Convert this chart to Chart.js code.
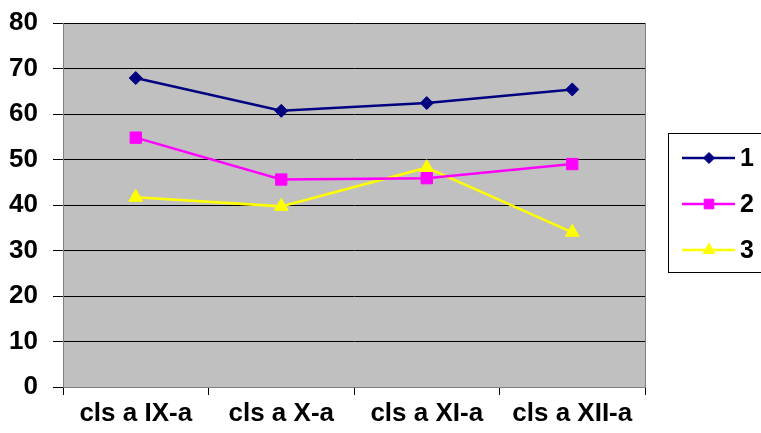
<!DOCTYPE html>
<html>
<head>
<meta charset="utf-8">
<script src="https://cdn.jsdelivr.net/npm/chart.js@4/dist/chart.umd.min.js"></script>
<style>
  html, body { margin: 0; padding: 0; background: #fff; }
  #wrap { width: 761px; height: 433px; }
</style>
</head>
<body>
<div id="wrap"><canvas id="chart" width="761" height="433"></canvas></div>
<script>
(function () {
  "use strict";

  // ---- data ----
  const CATEGORIES = ["cls a IX-a", "cls a X-a", "cls a XI-a", "cls a XII-a"];
  const SERIES_1 = [67.9, 60.7, 62.4, 65.4];
  const SERIES_2 = [54.8, 45.6, 45.9, 49.0];
  const SERIES_3 = [41.7, 39.7, 48.2, 34.0];
  const SERIES_NAMES = ["1", "2", "3"];
  const Y_MIN = 0, Y_MAX = 80, Y_STEP = 10;

  const COLORS = {
    s1: "#000080",
    s2: "#FF00FF",
    s3: "#FFFF00",
    plot: "#C0C0C0",
    frame: "#808080",
    grid: "#000000",
    text: "#000000",
  };
  const FONT = "'Liberation Sans', Arial, sans-serif";

  // Gray plot background + right frame edge.
  const plotBg = {
    id: "plotBg",
    beforeDraw(chart) {
      const a = chart.chartArea, c = chart.ctx;
      c.save();
      c.fillStyle = COLORS.plot;
      c.fillRect(a.left, a.top, a.right - a.left, a.bottom - a.top);
      c.restore();
    },
    afterDatasetsDraw(chart) {
      const a = chart.chartArea, c = chart.ctx;
      c.save();
      c.strokeStyle = COLORS.frame;
      c.lineWidth = 1;
      c.beginPath();
      c.moveTo(a.right + 0.5, a.top);
      c.lineTo(a.right + 0.5, a.bottom);
      c.stroke();
      c.restore();
    },
  };

  // Excel-style boxed legend: line segment with a marker, label on the right.
  const boxLegend = {
    id: "boxLegend",
    afterDraw(chart) {
      const c = chart.ctx;
      c.save();
      c.strokeStyle = "#000";
      c.lineWidth = 1;
      c.strokeRect(668.5, 133.5, 100, 139);
      const rows = [158, 204, 250];
      chart.data.datasets.forEach((ds, i) => {
        const y = rows[i];
        c.strokeStyle = ds.borderColor;
        c.lineWidth = ds.borderWidth;
        c.beginPath();
        c.moveTo(682, y);
        c.lineTo(735, y);
        c.stroke();
        c.fillStyle = ds.borderColor;
        c.lineWidth = 1;
        Chart.helpers.drawPoint(c, { pointStyle: ds.pointStyle, radius: ds.pointRadius * 0.85, borderWidth: 1 }, 709, y);
        c.fillStyle = COLORS.text;
        c.font = "bold 25px " + FONT;
        c.textBaseline = "middle";
        c.textAlign = "left";
        c.fillText(ds.label, 740, y + 1);
      });
      c.restore();
    },
  };

  function series(label, data, color, style, radius) {
    return {
      label: label,
      data: data,
      borderColor: color,
      backgroundColor: color,
      borderWidth: 2.5,
      pointStyle: style,
      pointRadius: radius,
      pointHoverRadius: radius,
      pointBorderWidth: 1,
      tension: 0,
    };
  }

  new Chart(document.getElementById("chart"), {
    type: "line",
    data: {
      labels: CATEGORIES,
      datasets: [
        series(SERIES_NAMES[0], SERIES_1, COLORS.s1, "rectRot", 6.5),
        series(SERIES_NAMES[1], SERIES_2, COLORS.s2, "rect", 8),
        series(SERIES_NAMES[2], SERIES_3, COLORS.s3, "triangle", 8),
      ],
    },
    options: {
      responsive: false,
      animation: false,
      layout: { padding: { top: 23, right: 116, left: 0, bottom: 0 } },
      plugins: { legend: { display: false }, tooltip: { enabled: false } },
      scales: {
        x: {
          offset: true,
          grid: { offset: true, drawOnChartArea: false, drawTicks: true, tickLength: 8, color: COLORS.grid },
          border: { color: COLORS.frame, width: 1 },
          ticks: { color: COLORS.text, padding: 3, maxRotation: 0, font: { family: FONT, size: 26, weight: "bold" } },
          afterFit(scale) { scale.height = 46; scale.paddingLeft = 0; scale.paddingRight = 0; },
        },
        y: {
          min: Y_MIN,
          max: Y_MAX,
          ticks: { stepSize: Y_STEP, color: COLORS.text, padding: 15, font: { family: FONT, size: 26, weight: "bold" } },
          grid: { color: COLORS.grid, tickLength: 10, drawTicks: true },
          border: { color: COLORS.frame, width: 1 },
          afterFit(scale) { scale.width = 63; scale.paddingTop = 0; scale.paddingBottom = 0; },
        },
      },
    },
    plugins: [plotBg, boxLegend],
  });
})();
</script>
</body>
</html>
